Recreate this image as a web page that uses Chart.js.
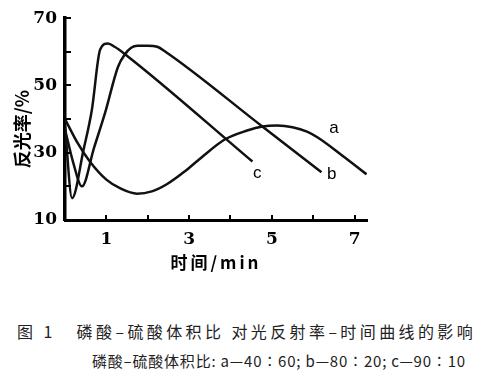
<!DOCTYPE html>
<html><head><meta charset="utf-8">
<script src="https://cdn.jsdelivr.net/npm/chart.js@4/dist/chart.umd.min.js"></script>
<style>
body{margin:0;background:#fff;width:482px;height:373px;overflow:hidden;position:relative;font-family:"Noto Sans CJK SC",sans-serif;}
#wrap{position:absolute;left:0;top:0;width:482px;height:300px;}
.cap{position:absolute;white-space:nowrap;color:#222;line-height:1;}
</style></head><body>
<div id="wrap"><canvas id="c"></canvas></div>
<div class="cap" id="cap1" style="left:17px;top:323px;font-size:16px;letter-spacing:3.4px;">图 1&nbsp;&nbsp;&nbsp;磷酸–硫酸体积比 对光反射率–时间曲线的影响</div>
<div class="cap" id="cap2" style="left:92px;top:353px;font-size:15px;letter-spacing:0.8px;">磷酸–硫酸体积比: a—40∶60; b—80∶20; c—90∶10</div>
<script>
// Curve a (40:60)
const timeA  = [0, 0.3, 0.6, 1.0, 1.35, 1.74, 2.1, 2.47, 2.9, 3.27, 3.87, 4.4, 4.77, 5.13, 5.5, 5.85, 6.1, 6.7, 7.29];
const valueA = [40, 33, 27.4, 22, 19.3, 17.8, 18.5, 20.7, 24.5, 28.3, 34, 36.6, 37.8, 38.1, 37.6, 36.3, 34.6, 29.2, 23.6];
// Curve b (80:20)
const timeB  = [0, 0.2, 0.41, 0.7, 0.97, 1.28, 1.45, 1.6, 1.75, 2.0, 2.23, 2.42, 4.77, 6.2];
const valueB = [37, 27, 20, 31.4, 41.9, 55.5, 59.3, 61.2, 61.8, 61.8, 61.5, 60.1, 37.8, 24.2];
// Curve c (90:10)
const timeC  = [0, 0.17, 0.45, 0.65, 0.85, 1.04, 1.2, 1.45, 4.53];
const valueC = [38, 16.5, 31, 42.8, 60.7, 62.5, 61.5, 59.3, 27.4];

const curveNames = ['a', 'b', 'c'];
const labelTimes = [6.5, 6.45, 4.65];
const labelValues = [37.3, 23.5, 23.8];

const xTickValues = [1, 2, 3, 4, 5, 6, 7];
const xTickLabels = [1, 3, 5, 7];
const yTickValues = [10, 20, 30, 40, 50, 60, 70];
const yTickLabels = [10, 30, 50, 70];

const xTitle = '时间/min';
const yTitle = '反光率/%';

function pts(t, v){ return t.map((x,i)=>({x:x, y:v[i]})); }

const decor = {
  id: 'decor',
  afterDraw(chart){
    const {ctx, chartArea:ca, scales:{x, y}} = chart;
    ctx.save();
    ctx.strokeStyle = '#000';
    ctx.lineWidth = 2;
    yTickValues.forEach(v=>{
      const py = Math.round(y.getPixelForValue(v));
      ctx.beginPath(); ctx.moveTo(ca.left, py); ctx.lineTo(ca.left + 6, py); ctx.stroke();
    });
    xTickValues.forEach(v=>{
      const px = Math.round(x.getPixelForValue(v));
      ctx.beginPath(); ctx.moveTo(px, ca.bottom); ctx.lineTo(px, ca.bottom - 5); ctx.stroke();
    });
    ctx.fillStyle = '#000';
    ctx.textAlign = 'center';
    ctx.textBaseline = 'middle';
    ctx.font = '17px "Liberation Sans"';
    curveNames.forEach((n,i)=>{
      ctx.fillText(n, x.getPixelForValue(labelTimes[i]), y.getPixelForValue(labelValues[i]));
    });
    ctx.font = 'bold 17px "Noto Sans CJK SC"';
    ctx.letterSpacing = '3px';
    ctx.fillText(xTitle, (ca.left + ca.right)/2, ca.bottom + 43);
    ctx.letterSpacing = '0px';
    ctx.save();
    ctx.translate(ca.left - 43, (ca.top + ca.bottom)/2 + 10);
    ctx.rotate(-Math.PI/2);
    ctx.font = 'bold 18px "Noto Sans CJK SC"';
    ctx.fillText(yTitle, 0, 0);
    ctx.restore();
    ctx.restore();
  }
};

const lineStyle = {borderColor:'#111', borderWidth:2.5, pointRadius:0, fill:false, cubicInterpolationMode:'monotone', showLine:true};

new Chart(document.getElementById('c'), {
  type: 'scatter',
  data: {
    datasets: [
      Object.assign({label:'a', data: pts(timeA, valueA)}, lineStyle),
      Object.assign({label:'b', data: pts(timeB, valueB)}, lineStyle),
      Object.assign({label:'c', data: pts(timeC, valueC)}, lineStyle)
    ]
  },
  options: {
    responsive: true,
    maintainAspectRatio: false,
    animation: false,
    devicePixelRatio: 1,
    layout: {padding: {left: 0, top: 13, right: 115, bottom: 0}},
    plugins: {legend: {display: false}, tooltip: {enabled: false}},
    scales: {
      x: {
        type: 'linear', min: 0, max: 7.3,
        afterFit(s){ s.height = 80; },
        grid: {display: true, drawOnChartArea: false, drawTicks: false},
        border: {display: true, width: 3, color: '#000'},
        ticks: {
          stepSize: 1, includeBounds: false, autoSkip: false, maxRotation: 0, padding: 9, color: '#000',
          font: {family: '"DejaVu Serif"', weight: 'bold', size: 17},
          callback: v => xTickLabels.includes(v) ? String(v) : ''
        }
      },
      y: {
        type: 'linear', min: 10, max: 70,
        afterFit(s){ s.width = 65; },
        grid: {display: true, drawOnChartArea: false, drawTicks: false},
        border: {display: true, width: 3.5, color: '#000'},
        ticks: {
          stepSize: 10, autoSkip: false, padding: 8, color: '#000',
          font: {family: '"DejaVu Serif"', weight: 'bold', size: 17},
          callback: v => yTickLabels.includes(v) ? String(v) : ''
        }
      }
    }
  },
  plugins: [decor]
});
</script>
</body></html>
